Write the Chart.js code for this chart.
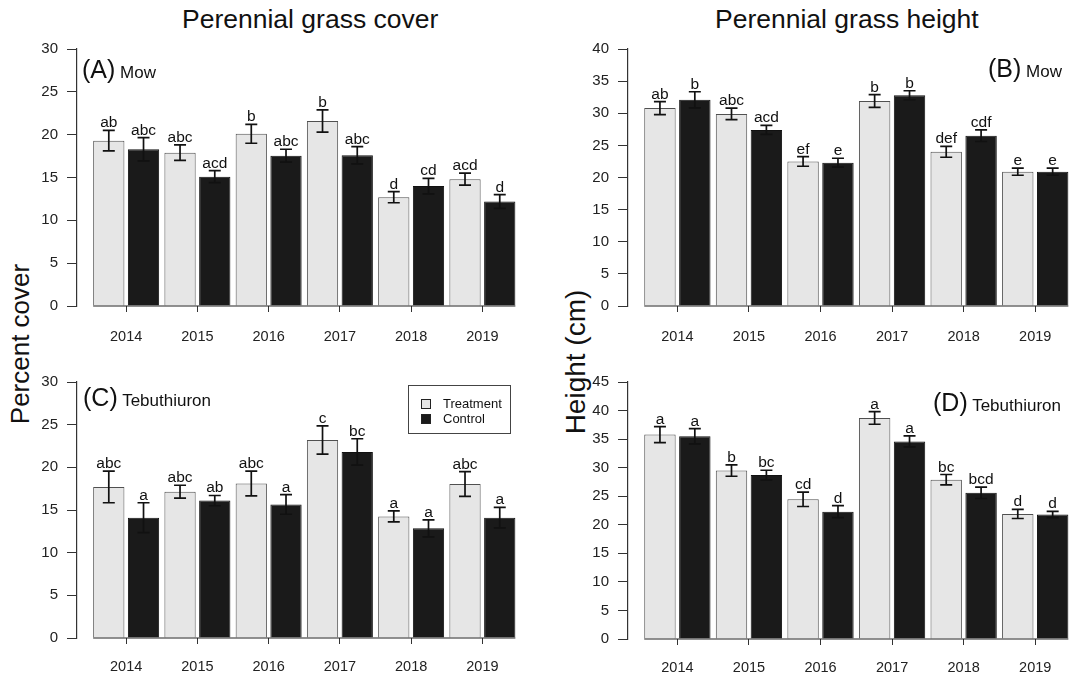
<!DOCTYPE html>
<html>
<head>
<meta charset="utf-8">
<script src="https://cdn.jsdelivr.net/npm/chart.js@4.4.1/dist/chart.umd.min.js"></script>
<style>
  body { margin: 0; background: #fff; font-family: "Liberation Sans", Arial, sans-serif; color: #111; }
  #wrap { position: relative; width: 1088px; height: 678px; overflow: hidden; }
  canvas { position: absolute; }
  .title { position: absolute; top: 4px; font-size: 26.5px; white-space: nowrap; }
  .ylab { position: absolute; font-size: 26px; white-space: nowrap; transform: translate(-50%, -50%) rotate(-90deg); }
  .plab { position: absolute; font-size: 17px; white-space: nowrap; line-height: 26px; }
  .plab .big { font-size: 25px; }
  .legend { position: absolute; left: 408px; top: 385px; width: 101px; height: 47px; border: 1px solid #444; font-size: 13px; }
  .legend .row { position: absolute; left: 12px; height: 16px; line-height: 16px; }
  .legend .sw { display: inline-block; width: 8px; height: 8px; border: 1px solid #222; margin-right: 12px; vertical-align: -1px; }
</style>
</head>
<body>
<div id="wrap">
  <div class="title" style="left:182px">Perennial grass cover</div>
  <div class="title" style="left:715px">Perennial grass height</div>
  <div class="ylab" style="left:20px;top:344px">Percent cover</div>
  <div class="ylab" style="left:576px;top:362px;font-size:28px">Height (cm)</div>

  <canvas id="chartA" width="544" height="350" style="left:0;top:0"></canvas>
  <canvas id="chartB" width="544" height="350" style="left:544px;top:0"></canvas>
  <canvas id="chartC" width="544" height="338" style="left:0;top:340px"></canvas>
  <canvas id="chartD" width="544" height="338" style="left:544px;top:340px"></canvas>

  <div class="plab" style="left:82px;top:56px"><span class="big">(A)</span> Mow</div>
  <div class="plab" style="left:988px;top:55px"><span class="big">(B)</span> Mow</div>
  <div class="plab" style="left:83px;top:384px"><span class="big">(C)</span> Tebuthiuron</div>
  <div class="plab" style="left:933px;top:389px"><span class="big">(D)</span> Tebuthiuron</div>

  <div class="legend">
    <div class="row" style="top:10px"><span class="sw" style="background:#e6e6e6"></span>Treatment</div>
    <div class="row" style="top:25px"><span class="sw" style="background:#1a1a1a"></span>Control</div>
  </div>
</div>

<script>
const years = ['2014', '2015', '2016', '2017', '2018', '2019'];

// (A) cover, mow
const coverMowTreat = [19.3, 17.9, 20.1, 21.6, 12.7, 14.8];
const coverMowTreatSE = [1.2, 0.9, 1.1, 1.3, 0.65, 0.7];
const coverMowCtrl = [18.3, 15.1, 17.55, 17.6, 14.0, 12.2];
const coverMowCtrlSE = [1.35, 0.7, 0.75, 1.0, 0.9, 0.8];
const coverMowTreatLet = ['ab', 'abc', 'b', 'b', 'd', 'acd'];
const coverMowCtrlLet = ['abc', 'acd', 'abc', 'abc', 'cd', 'd'];

// (B) height, mow
const heightMowTreat = [30.8, 29.9, 22.5, 31.9, 24.0, 20.9];
const heightMowTreatSE = [1.0, 0.9, 0.75, 1.0, 0.85, 0.55];
const heightMowCtrl = [32.1, 27.4, 22.3, 32.8, 26.5, 20.9];
const heightMowCtrlSE = [1.25, 0.7, 0.7, 0.7, 0.9, 0.55];
const heightMowTreatLet = ['ab', 'abc', 'ef', 'b', 'def', 'e'];
const heightMowCtrlLet = ['b', 'acd', 'e', 'b', 'cdf', 'e'];

// (C) cover, tebuthiuron
const coverTebTreat = [17.7, 17.15, 18.1, 23.2, 14.25, 18.05];
const coverTebTreatSE = [1.85, 0.75, 1.45, 1.65, 0.65, 1.45];
const coverTebCtrl = [14.1, 16.1, 15.65, 21.8, 12.85, 14.1];
const coverTebCtrlSE = [1.75, 0.6, 1.15, 1.55, 1.0, 1.2];
const coverTebTreatLet = ['abc', 'abc', 'abc', 'c', 'a', 'abc'];
const coverTebCtrlLet = ['a', 'ab', 'a', 'bc', 'a', 'a'];

// (D) height, tebuthiuron
const heightTebTreat = [35.8, 29.5, 24.45, 38.7, 27.9, 21.9];
const heightTebTreatSE = [1.4, 1.0, 1.25, 1.1, 0.9, 0.8];
const heightTebCtrl = [35.5, 28.7, 22.3, 34.6, 25.6, 21.8];
const heightTebCtrlSE = [1.35, 0.85, 1.05, 0.95, 1.0, 0.55];
const heightTebTreatLet = ['a', 'b', 'cd', 'a', 'bc', 'd'];
const heightTebCtrlLet = ['a', 'bc', 'd', 'a', 'bcd', 'd'];

Chart.defaults.font.family = '"Liberation Sans", Arial, sans-serif';
Chart.defaults.color = '#222';

// error bars, significance letters and the baseline under the bars
const errorBars = {
    id: 'errorBars',
    afterDatasetsDraw(chart) {
        const ctx = chart.ctx;
        const y = chart.scales.y;
        chart.data.datasets.forEach((ds, di) => {
            const meta = chart.getDatasetMeta(di);
            meta.data.forEach((bar, i) => {
                const v = ds.data[i].y;
                const top = y.getPixelForValue(v + ds.se[i]);
                const bot = y.getPixelForValue(v - ds.se[i]);
                ctx.save();
                ctx.strokeStyle = '#111';
                ctx.lineWidth = 1.7;
                ctx.beginPath();
                ctx.moveTo(bar.x, top); ctx.lineTo(bar.x, bot);
                ctx.moveTo(bar.x - 6, top); ctx.lineTo(bar.x + 6, top);
                ctx.moveTo(bar.x - 6, bot); ctx.lineTo(bar.x + 6, bot);
                ctx.stroke();
                ctx.fillStyle = '#111';
                ctx.font = '15.5px "Liberation Sans", Arial, sans-serif';
                ctx.textAlign = 'center';
                ctx.textBaseline = 'alphabetic';
                ctx.fillText(ds.letters[i], bar.x, top - 3);
                ctx.restore();
            });
        });
        const first = chart.getDatasetMeta(0).data[0];
        const lastMeta = chart.getDatasetMeta(1).data;
        const last = lastMeta[lastMeta.length - 1];
        const y0 = y.getPixelForValue(0);
        ctx.save();
        ctx.strokeStyle = '#222';
        ctx.lineWidth = 1.2;
        ctx.beginPath();
        ctx.moveTo(first.x - first.width / 2, y0);
        ctx.lineTo(last.x + last.width / 2, y0);
        ctx.stroke();
        ctx.restore();
    }
};

function makePanel(id, yMax, treat, treatSE, ctrl, ctrlSE, treatLet, ctrlLet, box) {
    const ctx = document.getElementById(id);
    return new Chart(ctx, {
        type: 'bar',
        data: {
            datasets: [
                {
                    label: 'Treatment',
                    data: years.map((_, i) => ({ x: i, y: treat[i] })),
                    se: treatSE,
                    letters: treatLet,
                    backgroundColor: '#e6e6e6',
                    borderColor: '#505050',
                    borderWidth: 1,
                    categoryPercentage: 0.975,
                    barPercentage: 0.9
                },
                {
                    label: 'Control',
                    data: years.map((_, i) => ({ x: i, y: ctrl[i] })),
                    se: ctrlSE,
                    letters: ctrlLet,
                    backgroundColor: '#1a1a1a',
                    borderColor: '#111',
                    borderWidth: 1,
                    categoryPercentage: 0.975,
                    barPercentage: 0.9
                }
            ]
        },
        options: {
            responsive: false,
            animation: false,
            layout: { padding: { left: 0, top: box.top, right: box.right, bottom: 0 } },
            plugins: {
                legend: { display: false },
                tooltip: { enabled: false }
            },
            scales: {
                x: {
                    type: 'linear',
                    offset: false,
                    min: -0.69,
                    max: 5.5,
                    afterBuildTicks: s => { s.ticks = years.map((_, i) => ({ value: i })); },
                    afterFit: s => { s.height = box.xh; },
                    grid: { drawOnChartArea: false, drawTicks: true, tickLength: 6, color: '#333', offset: false },
                    border: { display: false },
                    ticks: {
                        callback: v => years[v],
                        padding: box.pad,
                        autoSkip: false,
                        maxRotation: 0,
                        font: { size: 14.5 },
                        color: '#222'
                    }
                },
                y: {
                    min: 0,
                    max: yMax,
                    afterFit: s => { s.width = box.left; },
                    grid: { drawOnChartArea: false, tickLength: 10, color: '#333' },
                    border: { display: true, color: '#333', width: 1.2 },
                    ticks: { stepSize: 5, padding: 9, font: { size: 15 }, color: '#222' }
                }
            }
        },
        plugins: [errorBars]
    });
}

makePanel('chartA', 30, coverMowTreat, coverMowTreatSE, coverMowCtrl, coverMowCtrlSE,
    coverMowTreatLet, coverMowCtrlLet, { left: 77, top: 49, right: 26, xh: 44, pad: 16 });
makePanel('chartB', 40, heightMowTreat, heightMowTreatSE, heightMowCtrl, heightMowCtrlSE,
    heightMowTreatLet, heightMowCtrlLet, { left: 84, top: 49, right: 17, xh: 44, pad: 16 });
makePanel('chartC', 30, coverTebTreat, coverTebTreatSE, coverTebCtrl, coverTebCtrlSE,
    coverTebTreatLet, coverTebCtrlLet, { left: 77, top: 42, right: 26, xh: 40, pad: 14 });
makePanel('chartD', 45, heightTebTreat, heightTebTreatSE, heightTebCtrl, heightTebCtrlSE,
    heightTebTreatLet, heightTebCtrlLet, { left: 84, top: 42, right: 17, xh: 39, pad: 14 });
</script>
</body>
</html>
